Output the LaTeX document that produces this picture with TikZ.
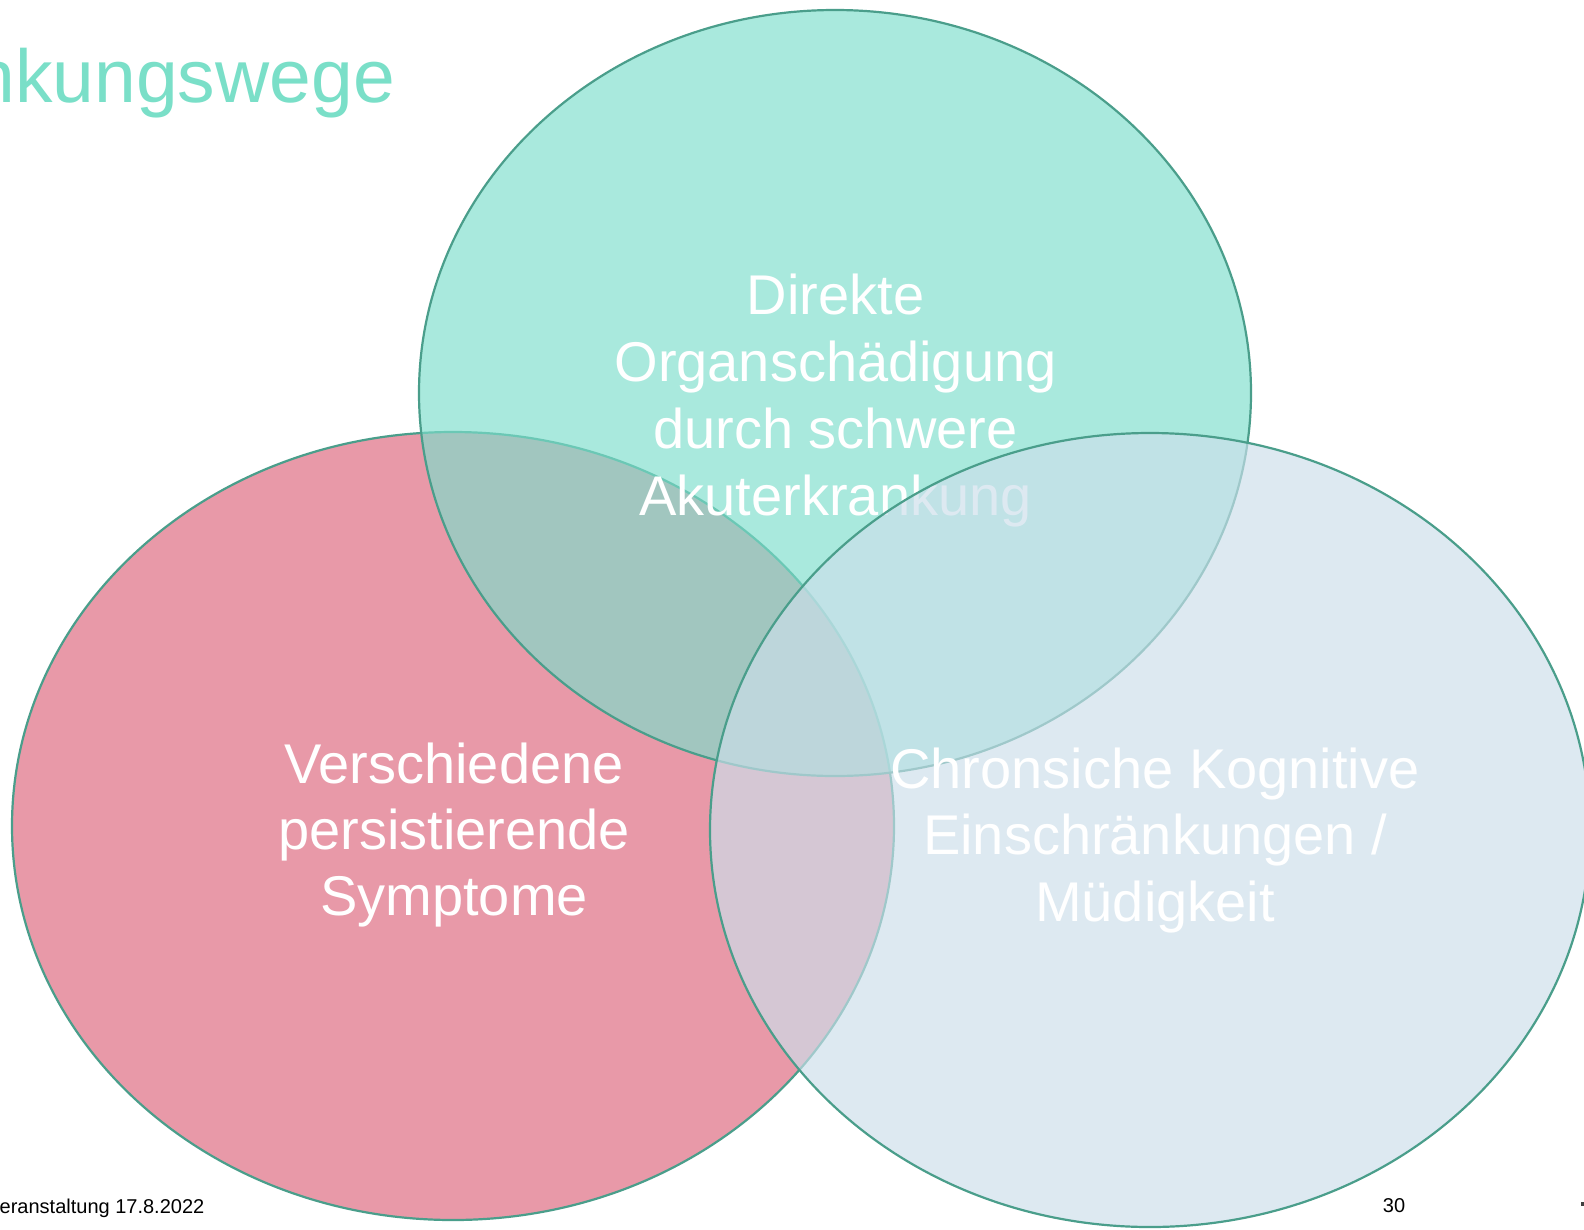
\documentclass[tikz,border=0pt]{standalone}
\usepackage{fontspec}
\setmainfont{Liberation Sans}
\usetikzlibrary{shapes.geometric}

\definecolor{vennline}{HTML}{4A9E8B}
\definecolor{rosefill}{HTML}{E899A8}
\definecolor{mintfill}{HTML}{7DDECC}
\definecolor{skyfill}{HTML}{CCDFEB}
\definecolor{titlemint}{HTML}{7ADFC8}

\begin{document}
\begin{tikzpicture}[x=1pt,y=-1pt,
  venn set/.style={ellipse, draw=vennline, line width=2.2pt, inner sep=0pt, outer sep=0pt},
  % labels are placed by the baseline of their last line
  set label/.style={text=white, align=center, anchor=base, inner sep=0pt,
    font=\fontsize{56}{67}\selectfont},
  footer/.style={text=black, inner sep=0pt, font=\fontsize{20}{24}\selectfont}]

% page frame
\clip (0,0) rectangle (1584,1229);
\fill[white] (0,0) rectangle (1584,1229);

% left set: persistent symptoms
\node[venn set, fill=rosefill, minimum width=882pt, minimum height=788pt] (symptome) at (453,826) {};
\node[set label, font=\fontsize{56}{66}\selectfont] (symptomeText) at (454,915)
  {Verschiedene\\persistierende\\Symptome};

% top set: organ damage
\node[venn set, fill=mintfill, fill opacity=0.66, minimum width=832pt, minimum height=766pt] (organ) at (835,393) {};
\node[set label] (organText) at (835.5,515)
  {Direkte\\Organschädigung\\durch schwere\\Akuterkrankung};

% right set: cognitive impairment
\node[venn set, fill=skyfill, fill opacity=0.66, minimum width=880pt, minimum height=794pt] (kognitiv) at (1150,830) {};
\node[set label, font=\fontsize{56}{66.5}\selectfont] (kognitivText) at (1155,921)
  {Chronsiche Kognitive\\Einschränkungen /\\Müdigkeit};

% heading and footer
\node[text=titlemint, anchor=base east, inner sep=0pt, font=\fontsize{75}{90}\selectfont] (title) at (395,102) {nkungswege};
\node[footer, anchor=base west] (event) at (-0.5,1213) {eranstaltung 17.8.2022};
\node[footer, anchor=base] (page) at (1394,1212) {30};
\fill[black!75] (1580.5,1201.5) rectangle (1584,1205.5);
\end{tikzpicture}
\end{document}
